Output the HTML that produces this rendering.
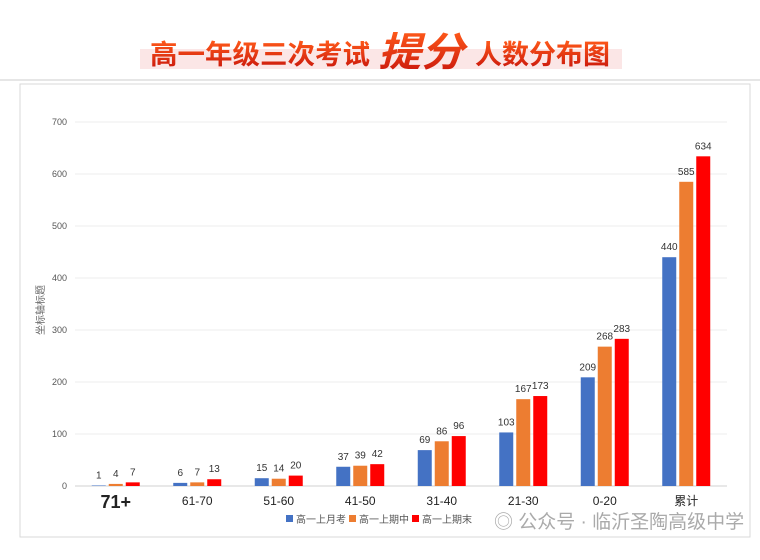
<!DOCTYPE html>
<html><head><meta charset="utf-8"><style>
body{margin:0;background:#fff;width:760px;height:555px;overflow:hidden;font-family:"Liberation Sans","Noto Sans CJK SC",sans-serif}
</style></head><body>
<svg width="760" height="555" xmlns="http://www.w3.org/2000/svg">
<defs><linearGradient id="tg" x1="0" y1="0" x2="0" y2="1"><stop offset="0" stop-color="#ff5a1a"/><stop offset="1" stop-color="#c8150c"/></linearGradient></defs>
<rect x="140" y="49" width="482" height="20" fill="#fbe6e6"/>
<text x="150" y="64" font-size="27" font-weight="bold" fill="url(#tg)" textLength="220" lengthAdjust="spacingAndGlyphs" font-family="Liberation Sans,Noto Sans CJK SC,sans-serif">高一年级三次考试</text>
<text x="378" y="66" font-size="40" font-weight="bold" fill="url(#tg)" font-style="italic" textLength="86" lengthAdjust="spacingAndGlyphs" font-family="Liberation Sans,Noto Sans CJK SC,sans-serif">提分</text>
<text x="475" y="64" font-size="27" font-weight="bold" fill="url(#tg)" textLength="135" lengthAdjust="spacingAndGlyphs" font-family="Liberation Sans,Noto Sans CJK SC,sans-serif">人数分布图</text>
<line x1="0" y1="80" x2="760" y2="80" stroke="#e6e6e6" stroke-width="2"/>
<rect x="20" y="84" width="730" height="453" fill="none" stroke="#d9d9d9"/>
<g id="grid"></g><g id="bars"></g>
<text transform="translate(44,310) rotate(-90)" font-size="10" fill="#666" text-anchor="middle">坐标轴标题</text>
<g font-size="10" fill="#555">
<rect x="286" y="515" width="7" height="7" fill="#4472c4"/><text x="296" y="523">高一上月考</text>
<rect x="349" y="515" width="7" height="7" fill="#ed7d31"/><text x="359" y="523">高一上期中</text>
<rect x="412" y="515" width="7" height="7" fill="#ff0000"/><text x="422" y="523">高一上期末</text>
</g>
<text x="494" y="528" font-size="19" fill="#aaa">◎ 公众号 · 临沂圣陶高级中学</text>
</svg>
<script>
const categories=["71+","61-70","51-60","41-50","31-40","21-30","0-20","累计"];
const seriesNames=["高一上月考","高一上期中","高一上期末"];
const s1=[1,6,15,37,69,103,209,440];
const s2=[4,7,14,39,86,167,268,585];
const s3=[7,13,20,42,96,173,283,634];
const yTicks=[0,100,200,300,400,500,600,700];
const colors=["#4472c4","#ed7d31","#ff0000"];
const NS="http://www.w3.org/2000/svg";
const x0=75,x1=727,y0=486,yTop=122,yMax=700;
const y=v=>y0-(v/yMax)*(y0-yTop);
const bw=(x1-x0)/categories.length;
const xc=i=>x0+bw*(i+0.5);
function mk(t,a,p){const e=document.createElementNS(NS,t);for(const k in a)e.setAttribute(k,a[k]);p.appendChild(e);return e;}
const g=document.getElementById('grid'),b=document.getElementById('bars');
yTicks.forEach(t=>{
 const l=mk('line',{x1:x0,x2:x1,y1:y(t),y2:y(t),stroke:t===0?'#d0d0d0':'#ececec'},g);
 
 
 const tx=mk('text',{x:67,y:y(t)+3,'font-size':9,fill:'#555','text-anchor':'end'},g);tx.textContent=t;
 
 
});
[s1,s2,s3].forEach((s,j)=>{
 s.forEach((v,i)=>{
  const cx=xc(i)+(j-1)*17;
  const r=mk('rect',{x:cx-7,y:y(v),width:14,height:y0-y(v),fill:colors[j]},b);
  
  
  const t=mk('text',{x:cx,y:y(v)-7,'font-size':10,fill:'#333','text-anchor':'middle'},b);t.textContent=v;
  
  
 });
});
categories.forEach((c,i)=>{
 const big=i===0;
 const t=mk('text',{x:xc(i),y:big?508:505,'font-size':big?18:12,'font-weight':big?'bold':'normal',fill:'#222','text-anchor':'middle'},b);t.textContent=c;
 
 
});
</script>
</body></html>
